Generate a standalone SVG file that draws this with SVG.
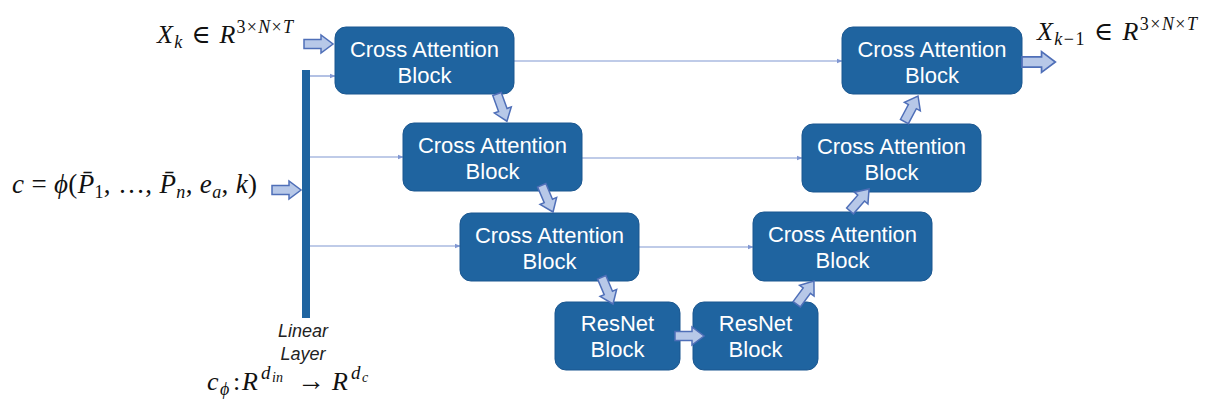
<svg xmlns="http://www.w3.org/2000/svg" width="1209" height="410" viewBox="0 0 1209 410">
<style>
.box{fill:#1f64a0;stroke:#1b5790;stroke-width:1}
.bt{fill:#ffffff;font-family:"Liberation Sans",Arial,sans-serif;font-size:22px;text-anchor:middle}
.math{font-family:"Liberation Serif","DejaVu Serif",serif;fill:#111111}
.it{font-style:italic}
.thin{stroke:#8097d2;stroke-width:1.2;fill:none;marker-end:url(#ah)}
.barrow{fill:#b7c8e8;stroke:#4f6fb8;stroke-width:1.5;stroke-linejoin:miter}
.lin{font-family:"Liberation Sans",Arial,sans-serif;font-style:italic;font-size:18px;fill:#222;text-anchor:middle}
</style>
<defs>
<marker id="ah" viewBox="0 0 10 10" refX="9" refY="5" markerWidth="6" markerHeight="6" orient="auto" markerUnits="userSpaceOnUse">
<path d="M0,1 L10,5 L0,9 Z" fill="#8097d2"/>
</marker>
<path id="ba" d="M0,-4.5 H17 V-9 L29,0 L17,9 V4.5 H0 Z"/>
</defs>
<rect width="1209" height="410" fill="#ffffff"/>

<g id="connectors">
<line class="thin" x1="310" y1="76" x2="335" y2="76"/>
<line class="thin" x1="310" y1="157" x2="403" y2="157"/>
<line class="thin" x1="310" y1="246" x2="460" y2="246"/>
<line class="thin" x1="514" y1="61" x2="842" y2="61"/>
<line class="thin" x1="582" y1="158" x2="802" y2="158"/>
<line class="thin" x1="639" y1="247" x2="753" y2="247"/>
</g>

<g id="linear-layer">
<rect x="302" y="70" width="8" height="248" fill="#1f64a0"/>
<text class="lin" x="303" y="337">Linear</text>
<text class="lin" x="303" y="360">Layer</text>
</g>

<g id="ca1"><rect class="box" x="335" y="27" width="179" height="67" rx="11"/>
<text class="bt" x="424.5" y="57">Cross Attention</text><text class="bt" x="424.5" y="83">Block</text></g>
<g id="ca2"><rect class="box" x="403" y="123" width="179" height="68" rx="11"/>
<text class="bt" x="492.5" y="153">Cross Attention</text><text class="bt" x="492.5" y="179">Block</text></g>
<g id="ca3"><rect class="box" x="460" y="213" width="179" height="68" rx="11"/>
<text class="bt" x="549.5" y="243">Cross Attention</text><text class="bt" x="549.5" y="269">Block</text></g>
<g id="rn1"><rect class="box" x="555" y="302" width="125" height="68" rx="11"/>
<text class="bt" x="617.5" y="331">ResNet</text><text class="bt" x="617.5" y="357">Block</text></g>
<g id="rn2"><rect class="box" x="693" y="302" width="125" height="68" rx="11"/>
<text class="bt" x="755.5" y="331">ResNet</text><text class="bt" x="755.5" y="357">Block</text></g>
<g id="ca5"><rect class="box" x="753" y="212" width="179" height="69" rx="11"/>
<text class="bt" x="842.5" y="242">Cross Attention</text><text class="bt" x="842.5" y="268">Block</text></g>
<g id="ca6"><rect class="box" x="802" y="124" width="179" height="68" rx="11"/>
<text class="bt" x="891.5" y="154">Cross Attention</text><text class="bt" x="891.5" y="180">Block</text></g>
<g id="ca7"><rect class="box" x="842" y="27" width="180" height="67" rx="11"/>
<text class="bt" x="932" y="57">Cross Attention</text><text class="bt" x="932" y="83">Block</text></g>

<g id="block-arrows">
<use href="#ba" class="barrow" transform="translate(304,44)"/>
<use href="#ba" class="barrow" transform="translate(272,190)"/>
<use href="#ba" class="barrow" transform="translate(1022,62) scale(1.15)"/>
<use href="#ba" class="barrow" transform="translate(497,94) rotate(70)"/>
<use href="#ba" class="barrow" transform="translate(541.7,185.3) rotate(67)"/>
<use href="#ba" class="barrow" transform="translate(601.7,277.3) rotate(67)"/>
<use href="#ba" class="barrow" transform="translate(675,336)"/>
<use href="#ba" class="barrow" transform="translate(796.7,304.3) rotate(-53.5)"/>
<use href="#ba" class="barrow" transform="translate(850,210.9) rotate(-49)"/>
<use href="#ba" class="barrow" transform="translate(904.4,121.6) rotate(-62)"/>
</g>

<g id="label-xk">
<text class="math" x="157" y="43" font-size="26" textLength="136" lengthAdjust="spacing"><tspan class="it">X</tspan><tspan class="it" font-size="18" dy="5">k</tspan><tspan dy="-5"> ∈ </tspan><tspan class="it">R</tspan><tspan font-size="18" dy="-10">3×</tspan><tspan class="it" font-size="18">N</tspan><tspan font-size="18">×</tspan><tspan class="it" font-size="18">T</tspan></text>
</g>
<g id="label-xk1">
<text class="math" x="1037" y="40" font-size="26" textLength="160" lengthAdjust="spacing"><tspan class="it">X</tspan><tspan class="it" font-size="18" dy="5">k</tspan><tspan font-size="18">−1</tspan><tspan dy="-5"> ∈ </tspan><tspan class="it">R</tspan><tspan font-size="18" dy="-10">3×</tspan><tspan class="it" font-size="18">N</tspan><tspan font-size="18">×</tspan><tspan class="it" font-size="18">T</tspan></text>
</g>
<g id="label-c">
<text class="math" x="12" y="193" font-size="27" textLength="245" lengthAdjust="spacing"><tspan class="it">c</tspan> = <tspan class="it">ϕ</tspan>(<tspan class="it">P̄</tspan><tspan font-size="18" dy="5">1</tspan><tspan dy="-5">, …, </tspan><tspan class="it">P̄</tspan><tspan class="it" font-size="18" dy="5">n</tspan><tspan dy="-5">, </tspan><tspan class="it">e</tspan><tspan class="it" font-size="18" dy="5">a</tspan><tspan dy="-5">, </tspan><tspan class="it">k</tspan>)</text>
</g>
<g id="label-cphi">
<text class="math" y="390" font-size="26"><tspan class="it" x="207">c</tspan><tspan class="it" font-size="18" x="220" dy="5">ϕ</tspan><tspan x="233" dy="-5">:</tspan><tspan class="it" x="242">R</tspan><tspan class="it" font-size="19" x="261" dy="-11">d</tspan><tspan class="it" font-size="14" x="272" dy="3">in</tspan><tspan x="297" dy="8" font-size="28">→</tspan><tspan class="it" x="332">R</tspan><tspan class="it" font-size="19" x="351" dy="-11">d</tspan><tspan class="it" font-size="14" x="362" dy="3">c</tspan></text>
</g>
</svg>
